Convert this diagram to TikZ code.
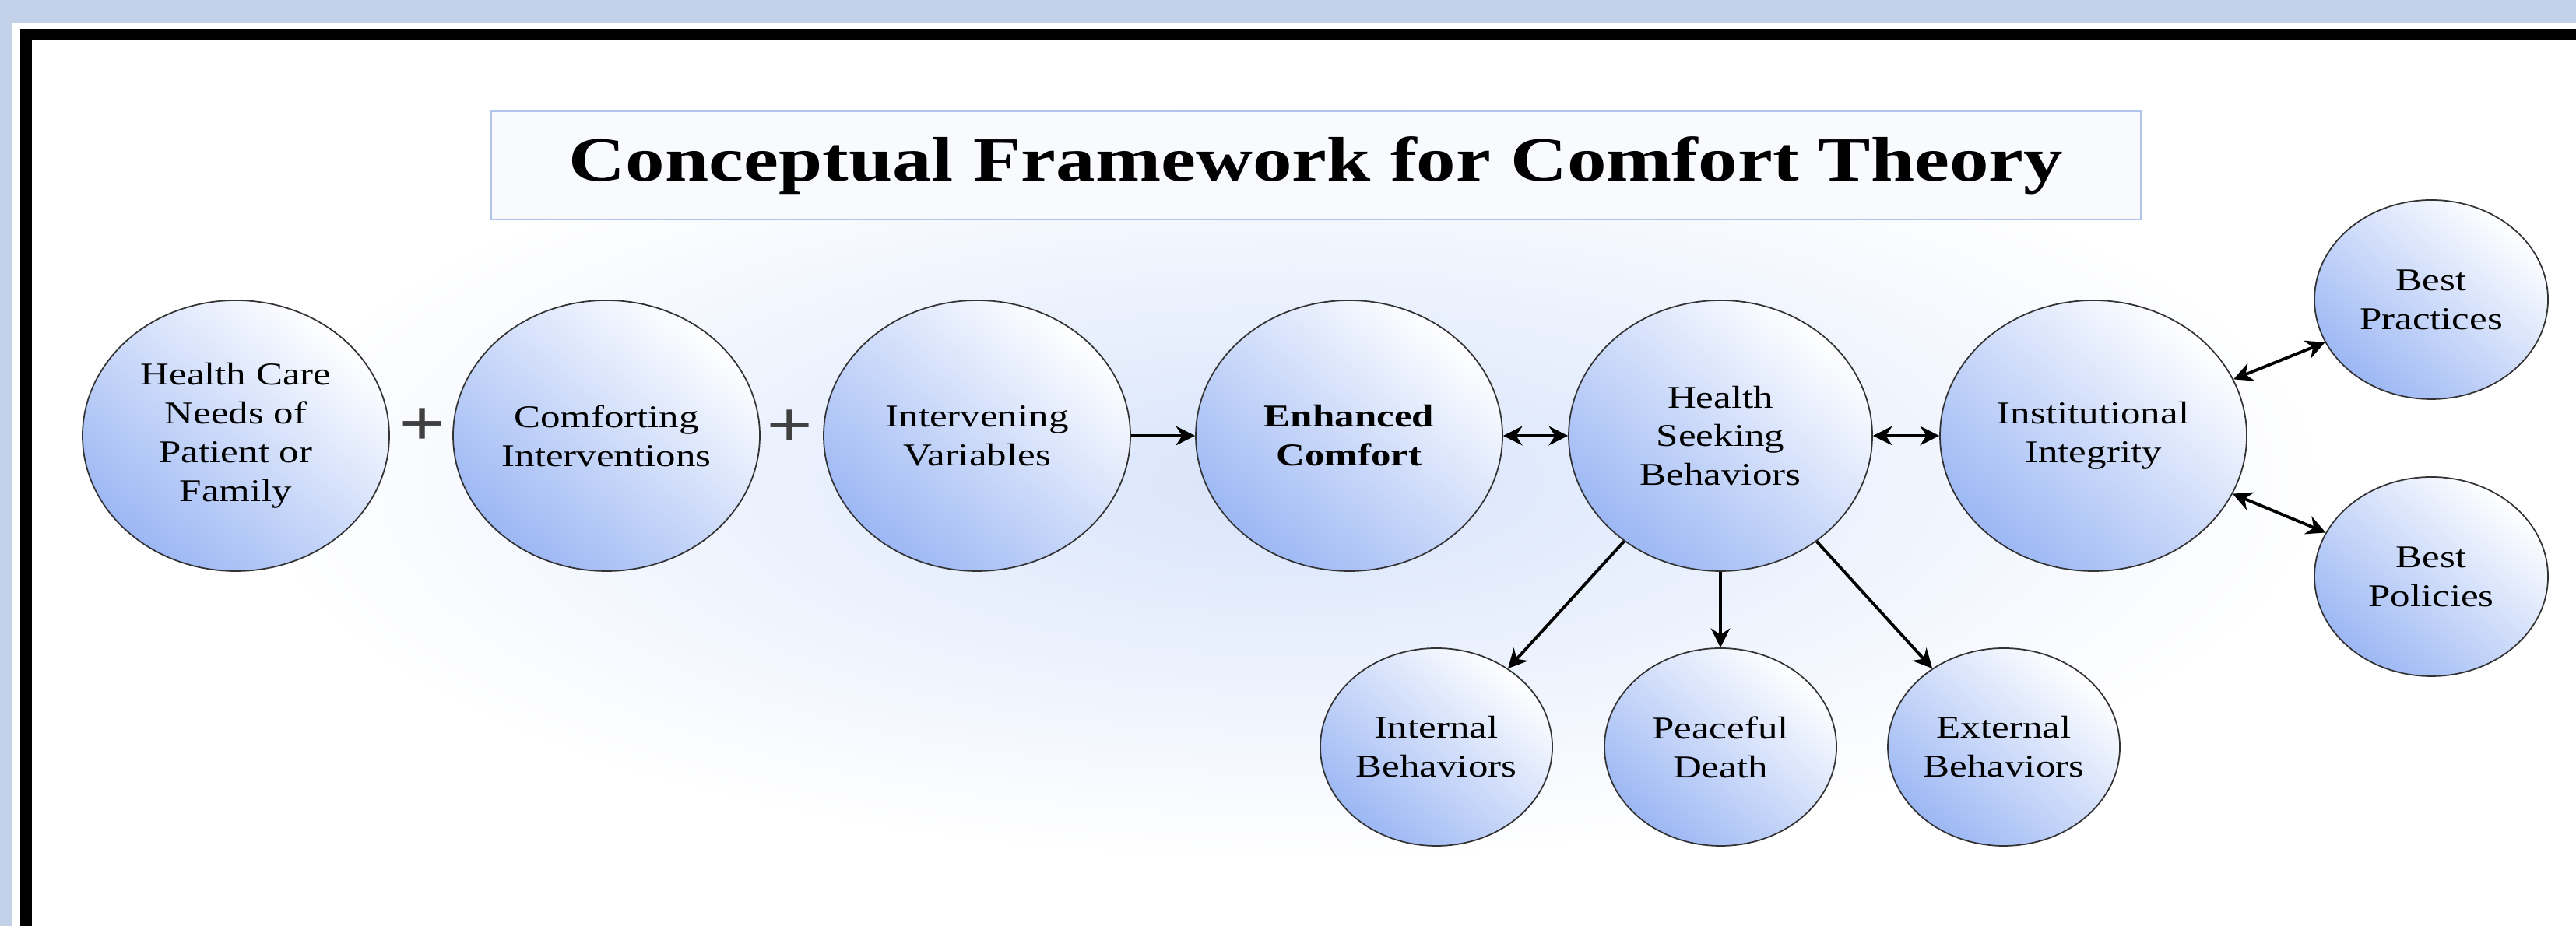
\documentclass[tikz,border=0pt]{standalone}
\usepackage{fontspec}
\setmainfont[FakeStretch=1.25]{Liberation Serif}
\usepackage{tikz}
\usetikzlibrary{shapes.geometric,arrows.meta}
\definecolor{bandblue}{RGB}{195,209,232}
\definecolor{bubbleblue}{RGB}{156,183,244}
\definecolor{glow}{RGB}{216,228,251}
\definecolor{titleline}{RGB}{176,196,238}
\definecolor{titlefill}{RGB}{249,250,254}

\begin{document}
\begin{tikzpicture}[thick,
		bubble/.style={ellipse,draw=black!80,line width=0.5pt,inner sep=0pt,top color=white,bottom color=bubbleblue,shading angle=-40,align=center,font=\fontsize{11.6}{14.2}\selectfont},
		big/.style={bubble,minimum width=3.94cm,minimum height=3.48cm},
		small/.style={bubble,minimum width=2.98cm,minimum height=2.54cm},
		plus/.style={text=black!75,inner sep=0pt,font=\fontsize{24}{24}\selectfont\bfseries},
		titlebox/.style={draw=titleline,fill=titlefill,line width=0.6pt,minimum width=21.19cm,minimum height=1.39cm,font=\fontsize{23}{24}\selectfont\bfseries},
		link/.style={line width=1.1pt,-{Stealth[length=7pt,width=7pt]}},
		both/.style={line width=1.1pt,{Stealth[length=7pt,width=7pt]}-{Stealth[length=7pt,width=7pt]}}]
			\useasboundingbox (0,0) rectangle (33.09,11.90);
			\fill[white] (0,0) rectangle (33.09,11.90);
			\fill[bandblue] (0,11.60) rectangle (33.09,11.90);
			\fill[bandblue] (0,0) rectangle (0.16,11.90);
			\draw[line width=0.145cm] (0.335,0) -- (0.335,11.455) -- (33.09,11.455);
			\shade[inner color=glow,outer color=white] (3.17,0.82) rectangle (29.97,10.63);
			\node[titlebox] (title) at (16.905,9.775) {Conceptual Framework for Comfort Theory};
			\node[big] (needs) at (3.03,6.30) {Health Care\\Needs of\\Patient or\\Family};
			\node[plus] (plusa) at (5.43,6.41) {+};
			\node[big] (interv) at (7.79,6.30) {Comforting\\Interventions};
			\node[plus] (plusb) at (10.15,6.39) {+};
			\node[big] (vars) at (12.55,6.30) {Intervening\\Variables};
			\node[big,font=\fontsize{11.6}{14.2}\selectfont\bfseries] (comfort) at (17.33,6.30) {Enhanced\\Comfort};
			\node[big,minimum width=3.90cm] (seeking) at (22.10,6.30) {Health\\Seeking\\Behaviors};
			\node[big] (integrity) at (26.89,6.30) {Institutional\\Integrity};
			\node[small,minimum width=3.00cm,minimum height=2.56cm] (practices) at (31.23,8.05) {Best\\Practices};
			\node[small,minimum width=3.00cm,minimum height=2.56cm] (policies) at (31.23,4.49) {Best\\Policies};
			\node[small] (internal) at (18.45,2.30) {Internal\\Behaviors};
			\node[small] (death) at (22.10,2.30) {Peaceful\\Death};
			\node[small] (external) at (25.74,2.30) {External\\Behaviors};
			\draw[link] (vars) -- (comfort);
			\draw[both] (comfort) -- (seeking);
			\draw[both] (seeking) -- (integrity);
			\draw[both] (integrity) -- (practices);
			\draw[both] (integrity) -- (policies);
			\draw[link] (seeking) -- (internal);
			\draw[link] (seeking) -- (death);
			\draw[link] (seeking) -- (external);
		\end{tikzpicture}
\end{document}
